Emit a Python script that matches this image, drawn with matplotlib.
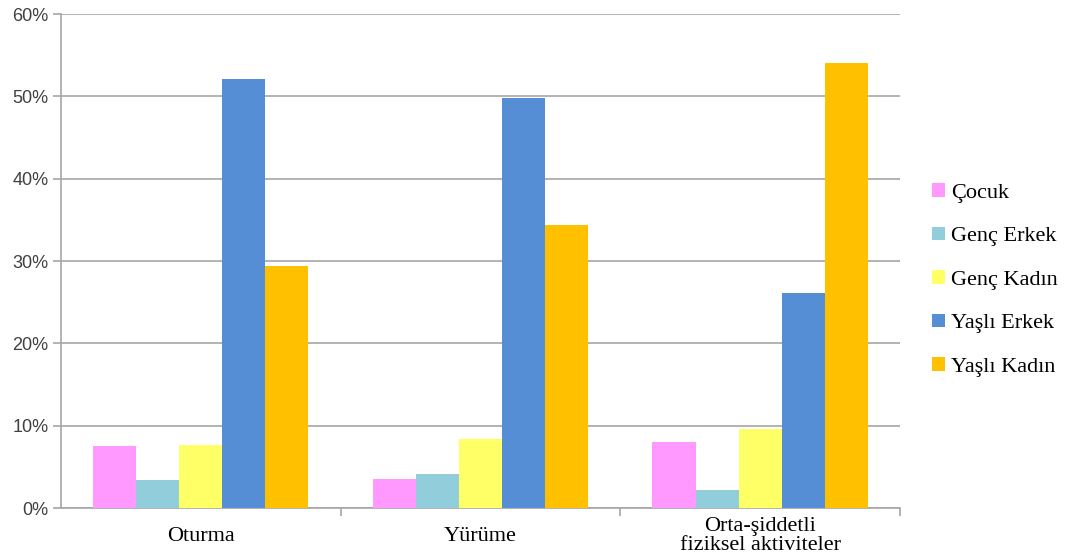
import numpy as np
import matplotlib
matplotlib.use("Agg")
import matplotlib.pyplot as plt
from matplotlib.ticker import FixedLocator

# --- data ---
categories = ["Oturma", "Yürüme", "Orta-şiddetli\nfiziksel aktiviteler"]
groups = ["Çocuk", "Genç Erkek", "Genç Kadın", "Yaşlı Erkek", "Yaşlı Kadın"]
cocuk = [7.5, 3.5, 8.0]
genc_erkek = [3.4, 4.1, 2.2]
genc_kadin = [7.6, 8.4, 9.6]
yasli_erkek = [52.1, 49.8, 26.1]
yasli_kadin = [29.4, 34.4, 54.1]
yticks = [0, 10, 20, 30, 40, 50, 60]

series = [cocuk, genc_erkek, genc_kadin, yasli_erkek, yasli_kadin]
colors = ["#FF99FF", "#92CDDC", "#FFFF66", "#558ED5", "#FFC000"]

fig = plt.figure(figsize=(10.68, 5.58), dpi=100)
ax = fig.add_axes([0.0571, 0.0896, 0.7856, 0.8853])

x = np.arange(len(categories))
w = 0.77 / len(series)
for i, (vals, col, name) in enumerate(zip(series, colors, groups)):
    ax.bar(x + (i - 2) * w, vals, width=w, color=col, label=name, zorder=3)

ax.set_xlim(-0.5, len(categories) - 0.5)
ax.set_ylim(0, 60)
ax.set_yticks(yticks)
ax.set_yticklabels([f"{v}%" for v in yticks], fontsize=13, color="#404040",
                   family="Liberation Sans")
ax.yaxis.grid(True, color="#A6A6A6", linewidth=1.2, zorder=0)
ax.tick_params(axis="y", length=6, color="#A6A6A6", width=1.2, pad=3)

ax.set_xticks(x)
ax.set_xticklabels(categories, fontsize=16, family="Liberation Serif",
                   linespacing=1.0, va="center")
ax.tick_params(axis="x", which="major", length=0, pad=20.5)
ax.xaxis.set_minor_locator(FixedLocator([0.5, 1.5, 2.5]))
ax.tick_params(axis="x", which="minor", length=6, color="#A6A6A6", width=1.2)

for s in ["top", "right"]:
    ax.spines[s].set_visible(False)
for s in ["left", "bottom"]:
    ax.spines[s].set_color("#A6A6A6")
    ax.spines[s].set_linewidth(1.2)

fig.legend(loc="center left", bbox_to_anchor=(0.873, 0.498), frameon=False,
           prop={"family": "Liberation Serif", "size": 16},
           handlelength=0.55, handleheight=0.55, handletextpad=0.3,
           labelspacing=1.08, borderaxespad=0, borderpad=0)

fig.savefig("out.png", dpi=100)
